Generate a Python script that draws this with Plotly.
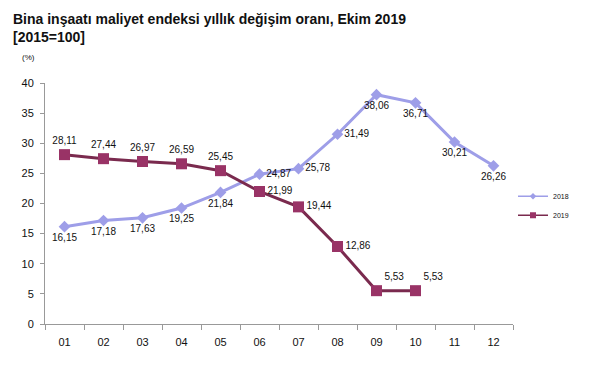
import plotly.graph_objects as go

months = ["01", "02", "03", "04", "05", "06", "07", "08", "09", "10", "11", "12"]
values_2018 = [16.15, 17.18, 17.63, 19.25, 21.84, 24.87, 25.78, 31.49, 38.06, 36.71, 30.21, 26.26]
values_2019 = [28.11, 27.44, 26.97, 26.59, 25.45, 21.99, 19.44, 12.86, 5.53, 5.53]
y_ticks = [0, 5, 10, 15, 20, 25, 30, 35, 40]

def fmt(v):
    return f"{v:.2f}".replace(".", ",")

c2018 = "#9E9EE8"
c2019_line = "#7A2A4E"
c2019_marker = "#993366"

pos_2018 = ["bottom center"] * 5 + ["middle right", "middle right", "middle right",
            "bottom center", "bottom center", "bottom center", "bottom center"]
pos_2019 = ["top center"] * 5 + ["middle right", "middle right", "middle right",
            "top right", "top right"]

fig = go.Figure()
fig.add_trace(go.Scatter(
    x=months, y=values_2018, name="2018", mode="lines+markers+text", showlegend=False,
    line=dict(color=c2018, width=3),
    marker=dict(symbol="diamond", size=9, color=c2018),
    text=[fmt(v) for v in values_2018], textposition=pos_2018,
    textfont=dict(size=10, color="#111111", family="Liberation Sans"),
    cliponaxis=False,
))
fig.add_trace(go.Scatter(
    x=months[:len(values_2019)], y=values_2019, name="2019", mode="lines+markers+text",
    showlegend=False,
    line=dict(color=c2019_line, width=3),
    marker=dict(symbol="square", size=11, color=c2019_marker),
    text=[fmt(v) for v in values_2019], textposition=pos_2019,
    textfont=dict(size=10, color="#111111", family="Liberation Sans"),
    cliponaxis=False,
))
# legend entries (smaller symbols, as in the reference legend)
fig.add_trace(go.Scatter(
    x=[None], y=[None], name="2018", mode="lines+markers",
    line=dict(color=c2018, width=1.5), marker=dict(symbol="diamond", size=5, color=c2018),
))
fig.add_trace(go.Scatter(
    x=[None], y=[None], name="2019", mode="lines+markers",
    line=dict(color=c2019_line, width=1.5), marker=dict(symbol="square", size=6, color=c2019_marker),
))

fig.update_layout(
    width=600, height=371,
    margin=dict(l=37, r=95, t=75, b=55, autoexpand=False),
    paper_bgcolor="white", plot_bgcolor="white",
    font=dict(family="Liberation Sans", size=11, color="#111111"),
    showlegend=True,
    legend=dict(x=1.0, y=0.59, xanchor="left", yanchor="top",
                font=dict(size=7), tracegroupgap=0, itemwidth=30,
                bgcolor="rgba(0,0,0,0)"),
    annotations=[
        dict(text="<b>Bina inşaatı maliyet endeksi yıllık değişim oranı, Ekim 2019<br>[2015=100]</b>",
             x=-0.072, y=1.307, xref="paper", yref="paper", showarrow=False,
             xanchor="left", yanchor="top", align="left",
             font=dict(size=14, color="#111111")),
        dict(text="(%)", x=-0.036, y=1.104, xref="paper", yref="paper",
             xanchor="center", yanchor="middle", showarrow=False,
             font=dict(size=8)),
    ],
)

fig.update_xaxes(
    range=[-0.5, 11.5],
    showline=True, linecolor="#999999", linewidth=1, showgrid=False, automargin=False,
    ticks="outside", tickson="boundaries", ticklen=5, tickcolor="#999999",
    tickfont=dict(size=11), ticklabelstandoff=8,
)
fig.update_yaxes(
    range=[0, 40], tickvals=y_ticks, showline=True, linecolor="#999999", linewidth=1,
    showgrid=False, zeroline=False, ticks="outside", ticklen=4, tickcolor="#999999",
    tickfont=dict(size=11), automargin=False, ticklabelstandoff=4,
)

fig.write_html("out.html")
